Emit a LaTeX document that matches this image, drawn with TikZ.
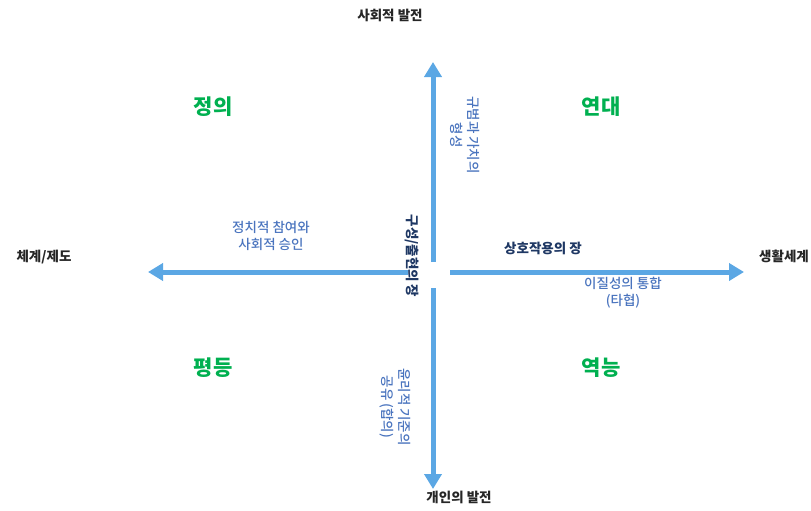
\documentclass[tikz,border=0pt]{standalone}
\usepackage{fontspec}
\setmainfont{Noto Sans CJK KR}
\newfontfamily\medfont{Noto Sans CJK KR Medium}
\usetikzlibrary{positioning, arrows.meta}
\definecolor{axisblue}{HTML}{5BA7E4}
\definecolor{textblue}{HTML}{4A74BE}
\definecolor{navy}{HTML}{1F3864}
\definecolor{valgreen}{HTML}{00B050}
\definecolor{axisgray}{HTML}{262626}
\tikzset{
  axis/.style={
      -{Triangle[width=17pt,length=15pt]},
      line width=5pt,
      color=axisblue
    },
  pole/.style={
      font=\bfseries\fontsize{13.5}{15}\selectfont,
      text=axisgray
    },
  value/.style={
      font=\bfseries\fontsize{21}{24}\selectfont,
      text=valgreen
    },
  note/.style={
      font=\medfont\fontsize{13.5}{17}\selectfont,
      text=textblue,
      align=center
    },
  field/.style={
      font=\bfseries\fontsize{13.5}{15}\selectfont,
      text=navy
    }
}

\begin{document}
\begin{tikzpicture}[x=1pt, y=-1pt]
  \useasboundingbox (0,0) rectangle (811,511);
  % axis ends
  \coordinate (up0) at (433,262); \coordinate (up1) at (433,62);
  \coordinate (dn0) at (433,288); \coordinate (dn1) at (433,489);
  \coordinate (lf0) at (408,272); \coordinate (lf1) at (148,272);
  \coordinate (rt0) at (450,272); \coordinate (rt1) at (744,272);
  \draw[axis] (up0) -- (up1);
  \draw[axis] (dn0) -- (dn1);
  \draw[axis] (lf0) -- (lf1);
  \draw[axis] (rt0) -- (rt1);
  % poles
  \node[pole] (social) at (390,15) {사회적 발전};
  \node[pole] (personal) at (459,497) {개인의 발전};
  \node[pole] (system) at (44,257) {체계/제도};
  \node[pole] (lifeworld) at (784,256) {생활세계};
  % values
  \node[value] (justice) at (213,107) {정의};
  \node[value] (solidarity) at (601,107) {연대};
  \node[value] (equality) at (213,368) {평등};
  \node[value] (empower) at (601,368) {역능};
  % notes
  \node[note] (politics) at (271,236) {정치적 참여와\\사회적 승인};
  \node[note] (integrate) at (623,293) {이질성의 통합\\(타협)};
  \node[note, rotate=-90] (norms) at (465,135) {규범과 가치의\\형성};
  \node[note, rotate=-90] (ethics) at (395,407) {윤리적 기준의\\공유 (합의)};
  % fields
  \node[field] (interact) at (543,248) {상호작용의 장};
  \node[field, rotate=-90] (emerge) at (412,256) {구성/출현의 장};
\end{tikzpicture}
\end{document}
